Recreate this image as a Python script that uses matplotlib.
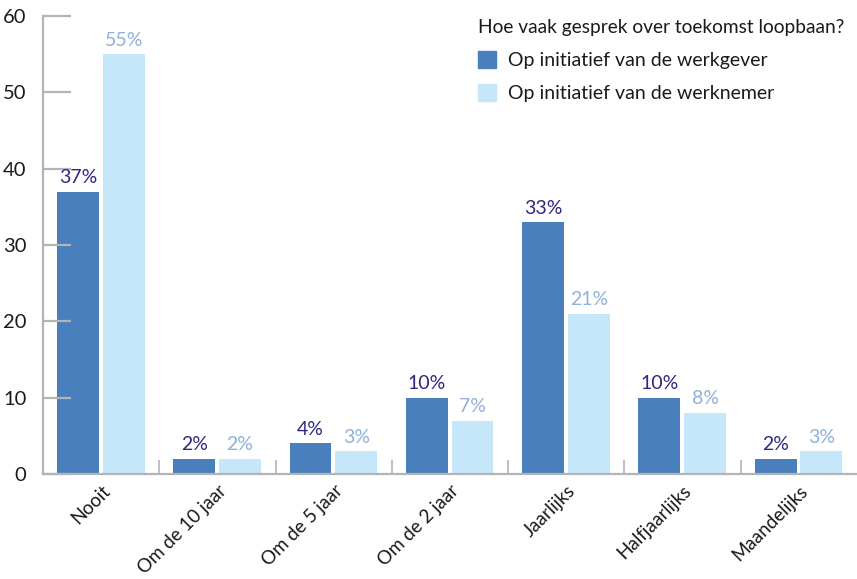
import matplotlib
matplotlib.use("Agg")
import matplotlib.pyplot as plt
import numpy as np
from matplotlib.patches import Patch

categories = ["Nooit", "Om de 10 jaar", "Om de 5 jaar", "Om de 2 jaar", "Jaarlijks", "Halfjaarlijks", "Maandelijks"]
werkgever = [37, 2, 4, 10, 33, 10, 2]
werknemer = [55, 2, 3, 7, 21, 8, 3]
series_names = ["Op initiatief van de werkgever", "Op initiatief van de werknemer"]
legend_title = "Hoe vaak gesprek over toekomst loopbaan?"

plt.rcParams['font.family'] = ['Lato', 'DejaVu Sans']

c_dark = "#4a7fbd"
c_light = "#c6e6f9"
t_dark = "#2e2880"
t_light = "#8fb1da"
grey = "#b4b4b4"

fig = plt.figure(figsize=(8.57, 5.79), dpi=100)
ax = fig.add_axes([43/857, 1-474/579, 1-43/857, (474-16)/579])

n = len(categories)
x = np.arange(n)
bw = 0.36
off_d = 0.12
off_l = 0.12 + bw + 0.034
ax.bar(x + off_d, werkgever, width=bw, align='edge', color=c_dark)
ax.bar(x + off_l, werknemer, width=bw, align='edge', color=c_light)

for i in range(n):
    ax.annotate(f"{werkgever[i]}%", (x[i] + off_d + bw/2, werkgever[i]), xytext=(0, 4),
                textcoords='offset points', ha='center', va='bottom', color=t_dark, fontsize=14)
    ax.annotate(f"{werknemer[i]}%", (x[i] + off_l + bw/2, werknemer[i]), xytext=(0, 4),
                textcoords='offset points', ha='center', va='bottom', color=t_light, fontsize=14)

ax.set_xlim(0, n)
ax.set_ylim(0, 60)
for s in ['top', 'right']:
    ax.spines[s].set_visible(False)
for s in ['left', 'bottom']:
    ax.spines[s].set_color(grey)
    ax.spines[s].set_linewidth(1.6)

ax.set_yticks(np.arange(0, 61, 10))
ax.tick_params(axis='y', direction='in', length=20, width=1.6, color=grey, labelsize=14.5, pad=12)
ax.set_xticks(np.arange(1, n))
ax.set_xticklabels([])
ax.tick_params(axis='x', direction='in', length=10, width=1.2, color=grey)
ax.set_xticks(x + 0.5, minor=True)
ax.set_xticklabels(categories, minor=True, rotation=45, ha='right', rotation_mode='anchor', fontsize=13.5)
ax.tick_params(axis='x', which='minor', length=0, pad=6)
for lbl in ax.get_yticklabels():
    lbl.set_color("#1a1a1a")
for lbl in ax.get_xticklabels(minor=True):
    lbl.set_color("#1a1a1a")

handles = [Patch(color=c_dark), Patch(color=c_light)]
leg = fig.legend(handles, series_names, title=legend_title, loc='upper left',
                 bbox_to_anchor=(460/857, 1-2/579), frameon=False, fontsize=14,
                 title_fontsize=13.8, handlelength=0.95, handleheight=0.95, handletextpad=0.6,
                 labelspacing=0.75, alignment='left')
for t in leg.get_texts():
    t.set_color("#1a1a1a")
leg.get_title().set_color("#1a1a1a")

fig.savefig("out.png", dpi=100)
